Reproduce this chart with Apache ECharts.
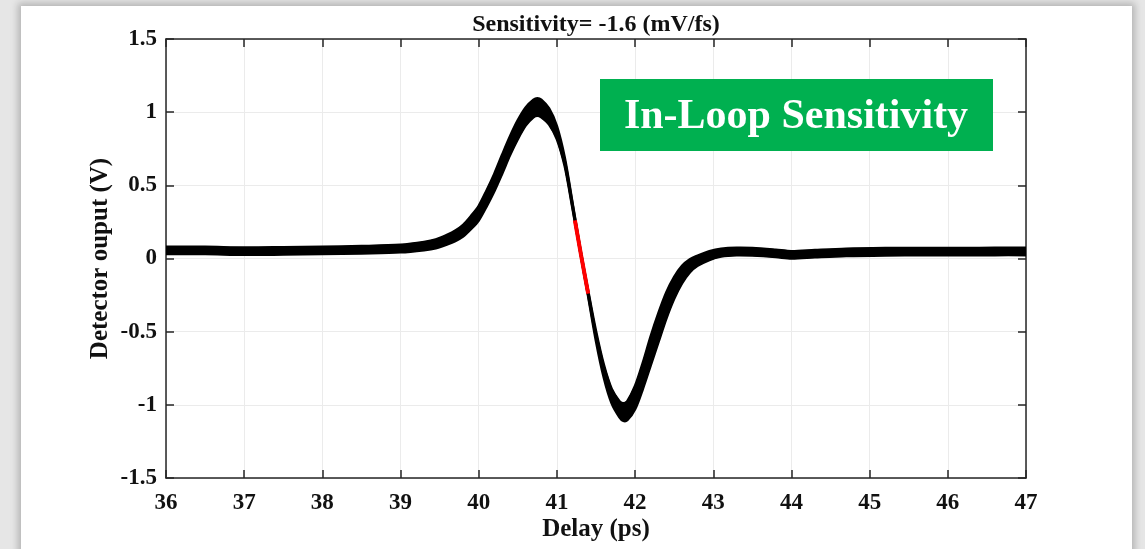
<!DOCTYPE html>
<html>
<head>
<meta charset="utf-8">
<script src="https://cdn.jsdelivr.net/npm/echarts@6/dist/echarts.min.js"></script>
<style>
  html, body { margin: 0; padding: 0; background: #e6e6e6; overflow: hidden; }
  #panel {
    position: absolute; left: 21px; top: 6px; width: 1111px; height: 560px;
    background: #fff; box-shadow: 0 0 7px 3px rgba(0, 0, 0, 0.22);
  }
  #main { position: absolute; left: 0; top: 0; width: 1145px; height: 549px; }
</style>
</head>
<body>
<div id="panel"></div>
<div id="main"></div>
<script>
var delay = [36, 36.5, 37, 37.5, 38, 38.5, 39, 39.3, 39.45, 39.6, 39.7, 39.8, 39.9,
  40.0, 40.1, 40.2, 40.3, 40.4, 40.5, 40.6, 40.7, 40.75, 40.8, 40.9,
  41.0, 41.1, 41.2, 41.3, 41.4, 41.5, 41.6, 41.7, 41.8, 41.85, 41.9,
  42.0, 42.1, 42.2, 42.3, 42.4, 42.5, 42.6, 42.7, 42.8, 42.95,
  43.1, 43.3, 43.5, 43.8, 44.0, 44.3, 44.7, 45.2, 45.7, 46.2, 46.6, 47]
var signal = [0.055, 0.055, 0.05, 0.052, 0.055, 0.06, 0.068, 0.085, 0.10, 0.13, 0.155, 0.19, 0.245,
  0.31, 0.41, 0.52, 0.645, 0.77, 0.88, 0.97, 1.025, 1.035, 1.025, 0.97,
  0.86, 0.66, 0.36, 0.05, -0.24, -0.53, -0.77, -0.94, -1.03, -1.05, -1.04,
  -0.95, -0.80, -0.63, -0.47, -0.32, -0.20, -0.11, -0.05, -0.015, 0.02,
  0.04, 0.048, 0.046, 0.035, 0.025, 0.033, 0.042, 0.046, 0.047, 0.047, 0.048, 0.048]
// half width of the noisy trace (V)
var noise = [0.025, 0.025, 0.025, 0.025, 0.025, 0.025, 0.026, 0.028, 0.03, 0.033, 0.036, 0.04, 0.045,
  0.05, 0.055, 0.06, 0.065, 0.065, 0.065, 0.062, 0.06, 0.06, 0.06, 0.055,
  0.045, 0.03, 0.02, 0.015, 0.02, 0.035, 0.045, 0.05, 0.055, 0.06, 0.065,
  0.08, 0.09, 0.1, 0.1, 0.09, 0.075, 0.06, 0.045, 0.035, 0.03,
  0.027, 0.026, 0.026, 0.025, 0.025, 0.025, 0.025, 0.025, 0.025, 0.025, 0.025, 0.025]
// highlighted slope used for the sensitivity
var slopeDelay = [41.23, 41.31, 41.40]
var slopeSignal = [0.26, 0.02, -0.24]

var xTicks = { min: 36, max: 47, step: 1 }
var yTicks = { min: -1.5, max: 1.5, step: 0.5 }

var font = '"Liberation Serif", "Times New Roman", serif'
var axisColor = '#262626'
var textColor = '#111'

var centre = delay.map(function (d, i) { return [d, signal[i]] })
var slope = slopeDelay.map(function (d, i) { return [d, slopeSignal[i]] })

function axisBase () {
  return {
    type: 'value',
    nameMoveOverlap: false,
    axisLine: { show: true, onZero: false, lineStyle: { color: axisColor, width: 1.5 } },
    axisTick: { show: true, inside: true, length: 8, lineStyle: { color: axisColor, width: 1.5 } },
    axisLabel: { color: textColor, fontFamily: font, fontWeight: 'bold', fontSize: 23 },
    splitLine: { show: false }
  }
}

var nameStyle = { color: textColor, fontFamily: font, fontWeight: 'bold', fontSize: 25 }

var x0 = axisBase()
Object.assign(x0, {
  position: 'bottom', min: xTicks.min, max: xTicks.max, interval: xTicks.step,
  name: 'Delay (ps)', nameLocation: 'middle', nameGap: 39, nameTextStyle: nameStyle,
  splitLine: { show: true, lineStyle: { color: '#ebebeb', width: 1 } }
})
x0.axisLabel.margin = 14
var x1 = axisBase()
Object.assign(x1, { position: 'top', min: xTicks.min, max: xTicks.max, interval: xTicks.step })
x1.axisLabel = { show: false }

var y0 = axisBase()
Object.assign(y0, {
  position: 'left', min: yTicks.min, max: yTicks.max, interval: yTicks.step,
  name: 'Detector ouput (V)', nameLocation: 'middle', nameGap: 53, nameTextStyle: nameStyle,
  splitLine: { show: true, lineStyle: { color: '#ebebeb', width: 1 } }
})
y0.axisLabel.margin = 9
y0.axisLabel.padding = [7, 0, 0, 0]
var y1 = axisBase()
Object.assign(y1, { position: 'right', min: yTicks.min, max: yTicks.max, interval: yTicks.step })
y1.axisLabel = { show: false }

// noisy trace drawn as a band between centre - noise and centre + noise
function renderBand (params, api) {
  var top = []
  var bottom = []
  for (var i = 0; i < delay.length; i++) {
    top.push(api.coord([delay[i], signal[i] + noise[i]]))
    bottom.push(api.coord([delay[i], signal[i] - noise[i]]))
  }
  return {
    type: 'group',
    children: [
      {
        type: 'polygon',
        shape: { points: top.concat(bottom.slice().reverse()) },
        style: { fill: '#000', stroke: '#000', lineWidth: 1 }
      },
      { type: 'polyline', shape: { points: top, smooth: 0.3 }, style: { fill: null, stroke: '#000', lineWidth: 2.5 } },
      { type: 'polyline', shape: { points: bottom, smooth: 0.3 }, style: { fill: null, stroke: '#000', lineWidth: 2.5 } }
    ]
  }
}

var chart = echarts.init(document.getElementById('main'))
chart.setOption({
  animation: false,
  backgroundColor: 'transparent',
  title: {
    text: 'Sensitivity= -1.6 (mV/fs)',
    left: 591, top: 8, textAlign: 'center',
    textStyle: { color: textColor, fontFamily: font, fontWeight: 'bold', fontSize: 24 }
  },
  grid: { left: 166, top: 39, right: 119, bottom: 71 },
  xAxis: [x0, x1],
  yAxis: [y0, y1],
  series: [
    {
      type: 'custom', data: [0], renderItem: renderBand, clip: true, z: 3, silent: true
    },
    {
      type: 'line', data: centre, smooth: 0.3, symbol: 'none', z: 4,
      lineStyle: { color: '#000', width: 3 }
    },
    {
      type: 'line', data: slope, smooth: true, symbol: 'none', z: 5,
      lineStyle: { color: '#ff0000', width: 4 }
    }
  ],
  graphic: [
    {
      type: 'rect', left: 600, top: 79, z: 100,
      shape: { width: 393, height: 72 }, style: { fill: '#00b050' }
    },
    {
      type: 'text', x: 796, y: 117, z: 101,
      style: {
        text: 'In-Loop Sensitivity', fill: '#fff', font: 'bold 42px ' + font,
        align: 'center', verticalAlign: 'middle'
      }
    }
  ]
})
</script>
</body>
</html>
